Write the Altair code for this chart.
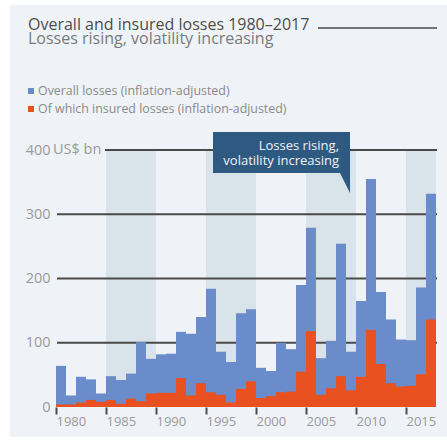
import altair as alt
import pandas as pd

# ---- data ----
years = list(range(1980, 2018))
overall = [64, 18, 47, 43, 21, 48, 42, 52, 101, 75,
           82, 83, 117, 114, 140, 184, 86, 70, 146, 152,
           61, 56, 100, 90, 190, 279, 76, 103, 254, 86,
           165, 355, 179, 136, 105, 104, 186, 332]
insured = [4, 4, 7, 11, 8, 11, 5, 13, 9, 21,
           22, 22, 45, 18, 37, 23, 19, 7, 28, 40,
           14, 17, 23, 24, 55, 118, 19, 29, 48, 26,
           47, 120, 67, 37, 32, 33, 51, 136]
band_start = [1985, 1995, 2005, 2015]
band_end = [1990, 2000, 2010, 2018]
grid_values = [100, 200, 300]
top_value = 400
y_ticks = [0, 100, 200, 300, 400]
x_ticks = [1980, 1985, 1990, 1995, 2000, 2005, 2010, 2015]

title = "Overall and insured losses 1980\u20132017"
subtitle = "Losses rising, volatility increasing"
legend_labels = ["Overall losses (inflation-adjusted)",
                 "Of which insured losses (inflation-adjusted)"]
note_lines = ["Losses rising,", "volatility increasing"]

BLUE = "#6a8ccb"
RED = "#ea5121"
PANEL = "#eff3f7"
BAND = "#d9e3ea"
GRID = "#4a4a4a"
NOTE = "#2e5a82"
LABEL = "#9a9a9a"
FONT = "Open Sans"

df = pd.DataFrame({"year": years, "overall": overall, "insured": insured})
bands = pd.DataFrame({"start": band_start, "end": band_end,
                      "top": [top_value] * len(band_start), "bottom": [0] * len(band_start)})
grid = pd.DataFrame({"v": grid_values})
one = pd.DataFrame({"k": [0]})

W, H = 380, 257
xs = alt.Scale(domain=[1980, 2018], nice=False, zero=False)
ys = alt.Scale(domain=[0, 400], nice=False)

X_AX = alt.Axis(values=x_ticks, format="d", title=None, domain=False,
                grid=False, tickSize=7, tickWidth=2, tickColor=GRID,
                labelAlign="left", labelPadding=1, labelFontSize=13,
                labelColor=LABEL, labelFont=FONT, zindex=2)
Y_AX = alt.Axis(values=y_ticks, title=None, domain=False, grid=False,
                ticks=False, labelPadding=6, labelFontSize=14.5,
                labelColor=LABEL, labelFont=FONT, zindex=2)

panel = alt.Chart(one).mark_rect(color=PANEL).encode(
    x=alt.value(-46), x2=alt.value(391), y=alt.value(-145), y2=alt.value(287))

band_layer = alt.Chart(bands).mark_rect(color=BAND).encode(
    x=alt.X("start:Q", scale=xs, axis=X_AX),
    x2="end:Q",
    y=alt.Y("top:Q", scale=ys, axis=Y_AX),
    y2="bottom:Q",
)

grid_layer = alt.Chart(grid).mark_rule(color=GRID, strokeWidth=1.8).encode(
    y=alt.Y("v:Q", scale=ys, axis=Y_AX),
    x=alt.value(1), x2=alt.value(W + 1),
)
top_rule = alt.Chart(pd.DataFrame({"v": [top_value]})).mark_rule(
    color=GRID, strokeWidth=1.8).encode(
    y=alt.Y("v:Q", scale=ys, axis=Y_AX),
    x=alt.value(49), x2=alt.value(W + 1),
)

base = alt.Chart(df).transform_calculate(year_end="datum.year + 1", zero="0")

bars_overall = base.mark_rect(color=BLUE).encode(
    x=alt.X("year:Q", scale=xs, axis=X_AX),
    x2="year_end:Q",
    y=alt.Y("overall:Q", scale=ys, axis=Y_AX),
    y2="zero:Q",
)
bars_insured = base.mark_rect(color=RED).encode(
    x=alt.X("year:Q", scale=xs, axis=X_AX),
    x2="year_end:Q",
    y=alt.Y("insured:Q", scale=ys, axis=Y_AX),
    y2="zero:Q",
)

unit = alt.Chart(pd.DataFrame({"t": ["US$ bn"]})).mark_text(
    align="left", baseline="middle", fontSize=14.5, color=LABEL, font=FONT
).encode(text="t:N", x=alt.value(-3), y=alt.value(0))

title_text = alt.Chart(pd.DataFrame({"t": [title]})).mark_text(
    align="left", baseline="alphabetic", fontSize=16, color="#4d4d4d", font=FONT
).encode(text="t:N", x=alt.value(-28), y=alt.value(-120.5))
title_line = alt.Chart(one).mark_rule(color=GRID, strokeWidth=1.5).encode(
    x=alt.value(262), x2=alt.value(381), y=alt.value(-122))
subtitle_text = alt.Chart(pd.DataFrame({"t": [subtitle]})).mark_text(
    align="left", baseline="alphabetic", fontSize=16, color="#7a7a7a", font=FONT
).encode(text="t:N", x=alt.value(-28), y=alt.value(-106))

leg_sq1 = alt.Chart(one).mark_rect(color=BLUE).encode(
    x=alt.value(-28), x2=alt.value(-22), y=alt.value(-62), y2=alt.value(-56))
leg_sq2 = alt.Chart(one).mark_rect(color=RED).encode(
    x=alt.value(-28), x2=alt.value(-22), y=alt.value(-44), y2=alt.value(-38))
leg_t1 = alt.Chart(pd.DataFrame({"t": [legend_labels[0]]})).mark_text(
    align="left", baseline="alphabetic", fontSize=12.4, color="#8a8a8a", font=FONT
).encode(text="t:N", x=alt.value(-18), y=alt.value(-55))
leg_t2 = alt.Chart(pd.DataFrame({"t": [legend_labels[1]]})).mark_text(
    align="left", baseline="alphabetic", fontSize=12.4, color="#8a8a8a", font=FONT
).encode(text="t:N", x=alt.value(-18), y=alt.value(-37))

note_box = alt.Chart(one).mark_rect(color=NOTE).encode(
    x=alt.value(157), x2=alt.value(294), y=alt.value(-18), y2=alt.value(23))
note_tip = alt.Chart(one).mark_point(
    shape="M -1 -1 L 0 -1 L 0 1 Z", filled=True, color=NOTE, opacity=1,
    size=400, strokeWidth=0).encode(x=alt.value(294), y=alt.value(33))
note_t1 = alt.Chart(pd.DataFrame({"t": [note_lines[0]]})).mark_text(
    align="right", baseline="alphabetic", fontSize=13, color="#eef2f6", font=FONT
).encode(text="t:N", x=alt.value(283), y=alt.value(0))
note_t2 = alt.Chart(pd.DataFrame({"t": [note_lines[1]]})).mark_text(
    align="right", baseline="alphabetic", fontSize=13, color="#eef2f6", font=FONT
).encode(text="t:N", x=alt.value(283), y=alt.value(15))

chart = alt.layer(
    panel, band_layer, grid_layer, top_rule, bars_overall, bars_insured,
    unit, title_text, title_line, subtitle_text,
    leg_sq1, leg_sq2, leg_t1, leg_t2,
    note_box, note_tip, note_t1, note_t2,
).properties(
    width=W, height=H,
    padding={"left": 56, "top": 150, "right": 11, "bottom": 33},
    autosize=alt.AutoSizeParams(type="none"),
    background="white",
).configure_view(stroke=None)

chart.save("out.html", embed_options={"renderer": "svg", "actions": False})
